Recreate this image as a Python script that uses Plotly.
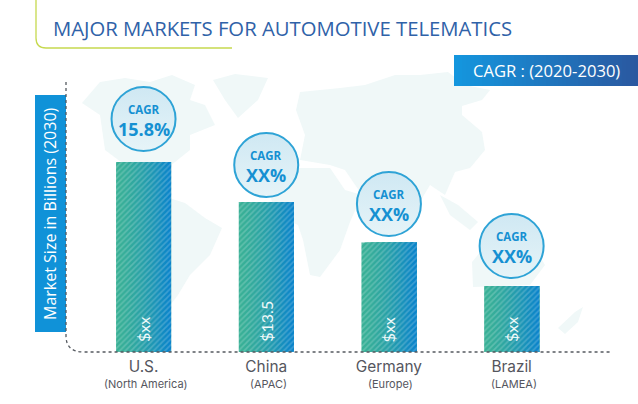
import plotly.graph_objects as go

# ---- data ----
categories = ["U.S.", "China", "Germany", "Brazil"]
regions = ["(North America)", "(APAC)", "(Europe)", "(LAMEA)"]
market_size = [17.1, 13.5, 9.85, 5.94]
bar_labels = ["$xx", "$13.5", "$xx", "$xx"]
cagr_labels = ["15.8%", "XX%", "XX%", "XX%"]
bubble_height = [20.97, 16.83, 13.32, 9.54]

W, H = 638, 404
ML, MR, MT, MB = 66, 27, 82, 52
PW, PH = W - ML - MR, H - MT - MB


def px(x):
    return (x - ML) / PW


def py(y):
    return (H - MB - y) / PH


def path(points, close=True):
    s = "M " + " L ".join(f"{px(x):.4f},{py(y):.4f}" for x, y in points)
    return s + (" Z" if close else "")


def mix(a, b, t):
    return "#%02x%02x%02x" % tuple(round(a[i] + (b[i] - a[i]) * t) for i in range(3))


land = [
    # North America
    [(82, 103), (100, 82), (125, 78), (150, 82), (172, 75), (195, 85), (190, 100), (205, 105), (215, 125),
     (190, 135), (190, 150), (165, 170), (155, 190), (125, 165), (105, 150), (100, 115)],
    # Greenland
    [(213, 80), (235, 74), (268, 78), (258, 100), (238, 118), (225, 100)],
    # South America
    [(160, 195), (185, 203), (205, 218), (222, 228), (210, 255), (190, 275), (178, 295), (165, 312), (160, 280), (150, 240)],
    # Africa
    [(268, 185), (298, 168), (330, 168), (345, 190), (362, 195), (350, 222), (340, 250), (320, 277), (310, 275),
     (303, 240), (298, 225), (275, 215)],
    # Eurasia
    [(296, 110), (300, 92), (340, 88), (365, 85), (395, 75), (420, 75), (448, 72), (465, 85), (490, 90), (482, 100),
     (462, 106), (462, 115), (482, 132), (485, 150), (470, 168), (455, 172), (445, 195), (430, 185), (418, 205),
     (402, 190), (385, 185), (362, 195), (345, 170), (330, 165), (300, 160), (305, 135)],
    # Southeast Asia islands
    [(440, 195), (458, 205), (478, 222), (470, 230), (450, 215)],
    # Australia
    [(472, 262), (490, 240), (530, 240), (545, 265), (530, 285), (473, 287)],
    # New Zealand
    [(558, 328), (575, 312), (583, 307), (578, 322), (565, 334)],
]

shapes = [dict(type="path", xref="paper", yref="paper", path=path(p), fillcolor="#f0f8f8",
               line=dict(width=0), layer="below") for p in land]

# header rule
shapes.append(dict(type="path", xref="paper", yref="paper",
                   path=f"M {px(36)},{py(0)} L {px(36)},{py(38)} Q {px(36)},{py(48)} {px(46)},{py(48)} L {px(232)},{py(48)}",
                   line=dict(color="#c6d94f", width=1.3), layer="below"))

# CAGR banner (stepped gradient)
N_BAN = 46
for i in range(N_BAN):
    x0 = 454 + i * (638 - 454) / N_BAN
    shapes.append(dict(type="rect", xref="paper", yref="paper", x0=px(x0), x1=px(638), y0=py(86), y1=py(55),
                       fillcolor=mix((20, 150, 222), (42, 88, 160), i / (N_BAN - 1)), line=dict(width=0), layer="below"))

# axis-title box
shapes.append(dict(type="rect", xref="paper", yref="paper", x0=px(35), x1=px(66), y0=py(332), y1=py(95),
                   fillcolor="#1092d8", line=dict(width=0), layer="below"))

# dotted axes
shapes.append(dict(type="path", xref="paper", yref="paper",
                   path=f"M {px(66)},{py(82)} L {px(66)},{py(336)} Q {px(66)},{py(352)} {px(84)},{py(352)} L {px(611)},{py(352)}",
                   line=dict(color="#555a60", width=1.3, dash="dot"), layer="above"))

fig = go.Figure()

# Bars: stepped left-to-right gradient, each strip runs through to the bar's right edge
BAR_W = 0.448
N = 18
for i in range(N):
    off = -BAR_W / 2 + i * BAR_W / N
    fig.add_trace(go.Bar(
        x=categories, y=market_size, width=BAR_W - i * BAR_W / N, offset=off,
        marker=dict(color=mix((56, 176, 150), (10, 132, 202), (i / (N - 1)) ** 1.4), line=dict(width=0),
                    pattern=dict(shape="/", size=4, solidity=0.4, fgcolor="#ffffff", fgopacity=0.2)),
        showlegend=False, hoverinfo="skip"))

# CAGR bubbles
fig.add_trace(go.Scatter(
    x=categories, y=bubble_height, mode="markers",
    marker=dict(size=64, color="#cfe8f3", line=dict(color="#2ea3d6", width=2),
                gradient=dict(type="vertical", color="#e6f4f8")),
    cliponaxis=False, showlegend=False, hoverinfo="skip"))

annotations = [
    dict(text="MAJOR MARKETS FOR AUTOMOTIVE TELEMATICS", xref="paper", yref="paper", x=px(51), y=py(28),
         xanchor="left", yanchor="middle", showarrow=False,
         font=dict(family="Open Sans", size=20.3, color="#2f62a8")),
    dict(text="CAGR : (2020-2030)", xref="paper", yref="paper", x=px(546), y=py(70.5),
         xanchor="center", yanchor="middle", showarrow=False,
         font=dict(family="Open Sans", size=16.6, color="#ffffff")),
    dict(text="Market Size in Billions (2030)", xref="paper", yref="paper", x=px(50), y=py(214),
         xanchor="center", yanchor="middle", textangle=-90, showarrow=False,
         font=dict(family="Open Sans", size=16, color="#ffffff")),
]

for c, r, lab, v, b in zip(categories, regions, bar_labels, cagr_labels, bubble_height):
    annotations += [
        dict(text="<b>CAGR</b>", x=c, y=b, yshift=10, showarrow=False, xanchor="center", yanchor="middle",
             font=dict(family="Open Sans", size=11.5, color="#1590d2")),
        dict(text=f"<b>{v}</b>", x=c, y=b, yshift=-9.5, showarrow=False, xanchor="center", yanchor="middle",
             font=dict(family="Open Sans", size=18, color="#1590d2")),
        dict(text=lab, x=c, y=0, yshift=8, showarrow=False, xanchor="center", yanchor="bottom", textangle=-90,
             font=dict(family="Lato", size=16, color="#f0fafa")),
        dict(text=r, x=c, y=0, yshift=-32, showarrow=False, xanchor="center", yanchor="middle", xshift=2,
             font=dict(family="Inter", size=11, color="#55565e")),
    ]

fig.update_layout(
    width=W, height=H, autosize=False, margin=dict(l=ML, r=MR, t=MT, b=MB, pad=0),
    paper_bgcolor="#ffffff", plot_bgcolor="rgba(0,0,0,0)", barmode="overlay",
    shapes=shapes, annotations=annotations, showlegend=False,
    xaxis=dict(type="category", categoryorder="array", categoryarray=categories,
               range=[-0.632, 3.81], showgrid=False, zeroline=False, showline=False, ticks="",
               tickmode="array", tickvals=categories, ticktext=categories, ticklabelstandoff=4,
               tickfont=dict(family="Inter", size=15.4, color="#55565e")),
    yaxis=dict(range=[0, PH / 11.11], showgrid=False, zeroline=False, showline=False, showticklabels=False, ticks=""),
)

fig.write_html("out.html", config=dict(displayModeBar=False),
               post_script="document.body.style.margin='0';document.body.style.overflow='hidden';")
